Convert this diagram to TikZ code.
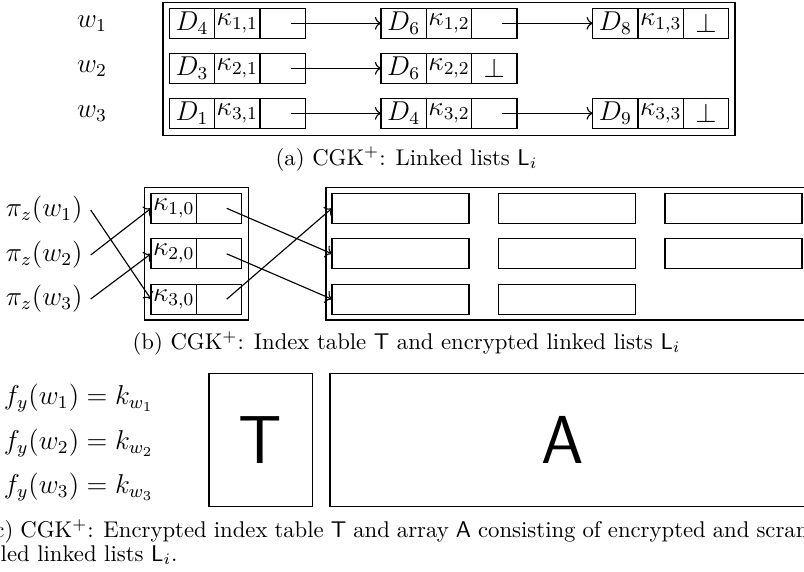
\documentclass[tikz,border=0pt]{standalone}
\usepackage{amsfonts, amsmath, amssymb}
\usepackage{tikz}
\usetikzlibrary{arrows.meta}

\begin{document}
\begin{tikzpicture}[x=0.44pt, y=-0.44pt, line width=0.5pt,
	cell/.style={draw, minimum width=19.95pt, minimum height=13.2pt, inner sep=0pt, outer sep=0pt, font=\fontsize{12}{14}\selectfont},
	slot/.style={draw, minimum width=60.3pt, minimum height=13.2pt, inner sep=0pt, outer sep=0pt},
	lbl/.style={font=\fontsize{12}{14}\selectfont},
	captxt/.style={inner sep=0pt, font=\normalsize},
	big/.style={font=\fontsize{29.86}{30}\selectfont\sffamily},
	ptr/.style={-{To}}]
	\useasboundingbox (0,0) rectangle (804,572);
	\clip (0,0) rectangle (804,572);
	% (a) linked lists
	\draw (163,2.7) rectangle (735,135.6);
	\node[lbl] (w1) at (92,23.3) {$w_1$};
	\node[lbl] (w2) at (92,68.3) {$w_2$};
	\node[lbl] (w3) at (92,113.3) {$w_3$};
	\node[cell] (d11) at (192,23.3) {$D_4$};
	\node[cell] (k11) at (237.3,23.3) {$\kappa_{1,1}$};
	\node[cell] (p11) at (282.6,23.3) {};
	\node[cell] (d12) at (403.7,23.3) {$D_6$};
	\node[cell] (k12) at (449,23.3) {$\kappa_{1,2}$};
	\node[cell] (p12) at (494.3,23.3) {};
	\node[cell] (d13) at (615.4,23.3) {$D_8$};
	\node[cell] (k13) at (660.7,23.3) {$\kappa_{1,3}$};
	\node[cell] (p13) at (706,23.3) {$\perp$};
	\node[cell] (d21) at (192,68.3) {$D_3$};
	\node[cell] (k21) at (237.3,68.3) {$\kappa_{2,1}$};
	\node[cell] (p21) at (282.6,68.3) {};
	\node[cell] (d22) at (403.7,68.3) {$D_6$};
	\node[cell] (k22) at (449,68.3) {$\kappa_{2,2}$};
	\node[cell] (p22) at (494.3,68.3) {$\perp$};
	\node[cell] (d31) at (192,113.3) {$D_1$};
	\node[cell] (k31) at (237.3,113.3) {$\kappa_{3,1}$};
	\node[cell] (p31) at (282.6,113.3) {};
	\node[cell] (d32) at (403.7,113.3) {$D_4$};
	\node[cell] (k32) at (449,113.3) {$\kappa_{3,2}$};
	\node[cell] (p32) at (494.3,113.3) {};
	\node[cell] (d33) at (615.4,113.3) {$D_9$};
	\node[cell] (k33) at (660.7,113.3) {$\kappa_{3,3}$};
	\node[cell] (p33) at (706,113.3) {$\perp$};
	\draw[ptr] ([xshift=3.5pt]p11.center) -- (d12.west);
	\draw[ptr] ([xshift=3.5pt]p12.center) -- (d13.west);
	\draw[ptr] ([xshift=3.5pt]p21.center) -- (d22.west);
	\draw[ptr] ([xshift=3.5pt]p31.center) -- (d32.west);
	\draw[ptr] ([xshift=3.5pt]p32.center) -- (d33.west);
	\node[captxt] (capa) at (406.5,159) {(a) CGK$^+$: Linked lists $\mathsf{L}_i$};
	% (b) index table and encrypted lists
	\draw (144.3,187.3) rectangle (248.3,320);
	\draw (326,187.3) rectangle (900,320);
	\node[lbl, anchor=east] (pz1) at (90.7,210) {$\pi_z(w_1)$};
	\node[lbl, anchor=east] (pz2) at (90.7,255) {$\pi_z(w_2)$};
	\node[lbl, anchor=east] (pz3) at (90.7,299) {$\pi_z(w_3)$};
	\node[cell] (t1) at (173.7,208.3) {$\kappa_{1,0}$};
	\node[cell] (tp1) at (219.2,208.3) {};
	\node[cell] (t2) at (173.7,253.8) {$\kappa_{2,0}$};
	\node[cell] (tp2) at (219.2,253.8) {};
	\node[cell] (t3) at (173.7,299.2) {$\kappa_{3,0}$};
	\node[cell] (tp3) at (219.2,299.2) {};
	\node[slot] (e11) at (400.5,208.3) {};
	\node[slot] (e12) at (566.8,208.3) {};
	\node[slot] (e13) at (733.5,208.3) {};
	\node[slot] (e21) at (400.5,253.8) {};
	\node[slot] (e22) at (566.8,253.8) {};
	\node[slot] (e23) at (733.5,253.8) {};
	\node[slot] (e31) at (400.5,299.2) {};
	\node[slot] (e32) at (566.8,299.2) {};
	\draw[ptr] (pz1.east) -- (t3.west);
	\draw[ptr] (pz2.east) -- (t1.west);
	\draw[ptr] (pz3.east) -- (t2.west);
	\draw[ptr] ([xshift=3.3pt]tp1.center) -- (e21.west);
	\draw[ptr] ([xshift=3.3pt]tp2.center) -- (e31.west);
	\draw[ptr] ([xshift=3.3pt]tp3.center) -- (e11.west);
	\node[captxt] (capb) at (406.5,343.3) {(b) CGK$^+$: Index table $\mathsf{T}$ and encrypted linked lists $\mathsf{L}_i$};
	% (c) encrypted table and array
	\node[lbl] (f1) at (78.7,398) {$f_y(w_1) = k_{w_1}$};
	\node[lbl] (f2) at (78.7,443) {$f_y(w_2) = k_{w_2}$};
	\node[lbl] (f3) at (78.7,487) {$f_y(w_3) = k_{w_3}$};
	\node[draw, big, minimum width=45.45pt, minimum height=58.7pt, inner sep=0pt] (tbl) at (260.6,440) {T};
	\draw (330,373.3) rectangle (950,506.7);
	\node[big, inner sep=0pt] (arr) at (563,440) {A};
	\node[captxt, anchor=base west] (capc1) at (-15,537.7) {\hbox spread -3pt{(c) CGK$^+$: Encrypted index table $\mathsf{T}$ and array $\mathsf{A}$ consisting of encrypted and scram-}};
	\node[captxt, anchor=base west] (capc2) at (-12.5,561) {bled linked lists $\mathsf{L}_i$.};
\end{tikzpicture}
\end{document}
